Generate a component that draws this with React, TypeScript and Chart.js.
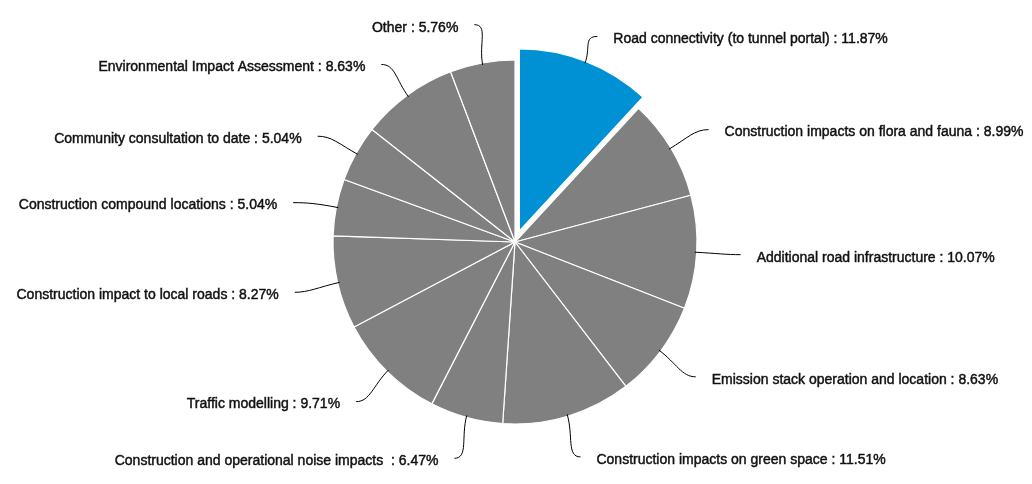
import React, { useEffect, useRef } from "react";
import { Chart, registerables } from "chart.js";

Chart.register(...registerables);

const categories: string[] = [
  "Road connectivity (to tunnel portal)",
  "Construction impacts on flora and fauna",
  "Additional road infrastructure",
  "Emission stack operation and location",
  "Construction impacts on green space",
  "Construction and operational noise impacts ",
  "Traffic modelling",
  "Construction impact to local roads",
  "Construction compound locations",
  "Community consultation to date",
  "Environmental Impact Assessment",
  "Other",
];

const responses: number[] = [33, 25, 28, 24, 32, 18, 27, 23, 14, 14, 24, 16];

const HIGHLIGHT = "#0090D4";
const BASE = "#808080";
const sliceColors: string[] = categories.map((_, i) => (i === 0 ? HIGHLIGHT : BASE));

const EXPLODE_INDEX = 0;
const EXPLODE_PX = 12;
const LABEL_GAP = 44;
const TEXT_GAP = 16;
const FONT = "14px 'Liberation Sans', Arial, Helvetica, sans-serif";

const explodePlugin = {
  id: "explodeSlice",
  beforeDatasetsDraw(chart: any) {
    const arc: any = chart.getDatasetMeta(0).data[EXPLODE_INDEX];
    if (!arc) return;
    const mid = (arc.startAngle + arc.endAngle) / 2;
    arc._ox = arc.x;
    arc._oy = arc.y;
    arc.x = arc.x + Math.cos(mid) * EXPLODE_PX;
    arc.y = arc.y + Math.sin(mid) * EXPLODE_PX;
  },
  afterDatasetsDraw(chart: any) {
    const arc: any = chart.getDatasetMeta(0).data[EXPLODE_INDEX];
    if (!arc || arc._ox === undefined) return;
    arc.x = arc._ox;
    arc.y = arc._oy;
    delete arc._ox;
    delete arc._oy;
  },
};

const labelPlugin = {
  id: "outerLabels",
  afterDraw(chart: any) {
    const ctx: CanvasRenderingContext2D = chart.ctx;
    const meta = chart.getDatasetMeta(0);
    const data: number[] = chart.data.datasets[0].data;
    const total = data.reduce((a, b) => a + b, 0);
    ctx.save();
    ctx.font = FONT;
    ctx.textBaseline = "middle";
    meta.data.forEach((arc: any, i: number) => {
      const { x, y, startAngle, endAngle, outerRadius } = arc;
      const mid = (startAngle + endAngle) / 2;
      const c = Math.cos(mid);
      const s = Math.sin(mid);
      const off = i === EXPLODE_INDEX ? EXPLODE_PX : 0;
      const sx = x + c * (outerRadius - 2 + off);
      const sy = y + s * (outerRadius - 2 + off);
      const ex = x + c * (outerRadius + LABEL_GAP);
      const ey = y + s * (outerRadius + LABEL_GAP) + (s < 0 ? 5 - 1.5 * (1 + s) : -1.5 * s);
      const side = c >= 0 ? 1 : -1;
      ctx.beginPath();
      ctx.moveTo(sx, sy);
      ctx.bezierCurveTo(
        x + c * (outerRadius + 20 + off * 0.5),
        y + s * (outerRadius + 20 + off * 0.5),
        ex - side * 14,
        ey,
        ex,
        ey
      );
      ctx.strokeStyle = "#000";
      ctx.lineWidth = 1;
      ctx.stroke();
      const pct = ((data[i] / total) * 100).toFixed(2);
      const text = `${chart.data.labels[i]} : ${pct}%`;
      ctx.fillStyle = "#111";
      ctx.strokeStyle = "#111";
      ctx.lineWidth = 0.45;
      ctx.textAlign = side > 0 ? "left" : "right";
      const tx = ex + side * TEXT_GAP;
      const ty = ey + 3;
      ctx.fillText(text, tx, ty);
      ctx.strokeText(text, tx, ty);
    });
    ctx.restore();
  },
};

export default function App() {
  const ref = useRef<HTMLCanvasElement | null>(null);
  useEffect(() => {
    if (!ref.current) return;
    const chart = new Chart(ref.current, {
      type: "pie",
      data: {
        labels: categories,
        datasets: [
          {
            data: responses,
            backgroundColor: sliceColors,
            borderColor: "#ffffff",
            borderWidth: 1.2,
            radius: 182,
          } as any,
        ],
      },
      options: {
        responsive: false,
        animation: false,
        layout: { padding: { left: 0, right: 2, top: 0, bottom: 0 } },
        plugins: {
          legend: { display: false },
          tooltip: { enabled: false },
        },
      },
      plugins: [explodePlugin, labelPlugin],
    });
    return () => chart.destroy();
  }, []);
  return (
    <canvas
      ref={ref}
      width={1016}
      height={468}
      style={{ display: "block", width: 1016, height: 468 }}
    />
  );
}
